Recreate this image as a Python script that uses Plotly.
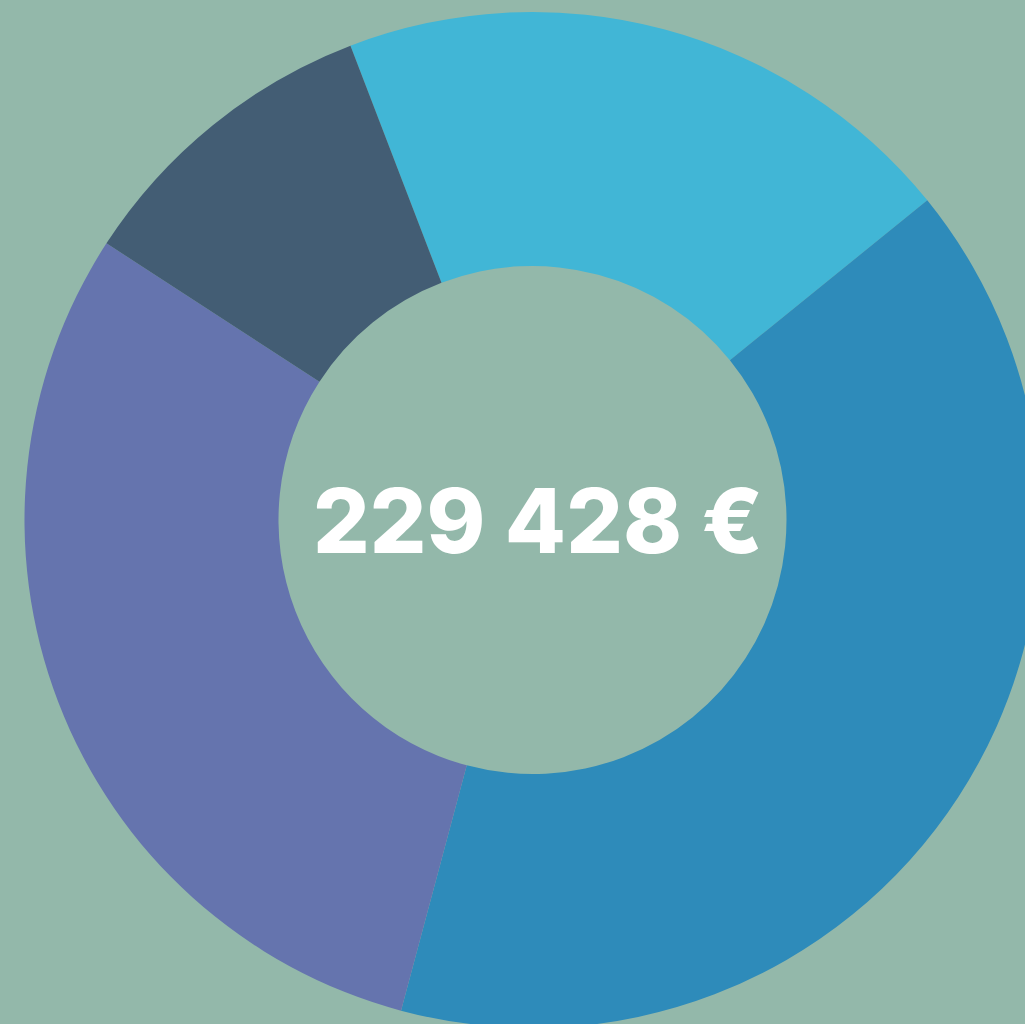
import plotly.graph_objects as go

# slices, clockwise from the top-left edge of the light blue one
labels = ["Poste 1", "Poste 2", "Poste 3", "Poste 4"]
values = [45886, 91771, 68828, 22943]
colors = ["#41B6D6", "#2E8BBA", "#6574AE", "#435D74"]
total_text = "229 428 €"

bg = "#93B8AA"

fig = go.Figure(
    go.Pie(
        labels=labels,
        values=values,
        hole=0.5,
        sort=False,
        direction="clockwise",
        rotation=-21,
        textinfo="none",
        marker={"colors": colors, "line": {"width": 0}},
        showlegend=False,
    )
)

fig.add_annotation(
    text=total_text,
    x=0.5,
    y=0.5,
    xshift=5,
    xref="paper",
    yref="paper",
    showarrow=False,
    font={
        "family": "Inter, Roboto, sans-serif",
        "size": 89,
        "weight": 800,
        "color": "white",
    },
)

# the donut runs off the right and bottom edges of the page
fig.update_layout(
    width=1065,
    height=1040,
    margin={"l": 0, "r": 0, "t": 12, "b": 12},
    paper_bgcolor=bg,
    plot_bgcolor=bg,
)

fig.write_html(
    "out.html",
    config={"displayModeBar": False},
    post_script=(
        "document.body.style.margin='0';"
        "document.body.style.overflow='hidden';"
        f"document.body.style.background='{bg}';"
    ),
)
